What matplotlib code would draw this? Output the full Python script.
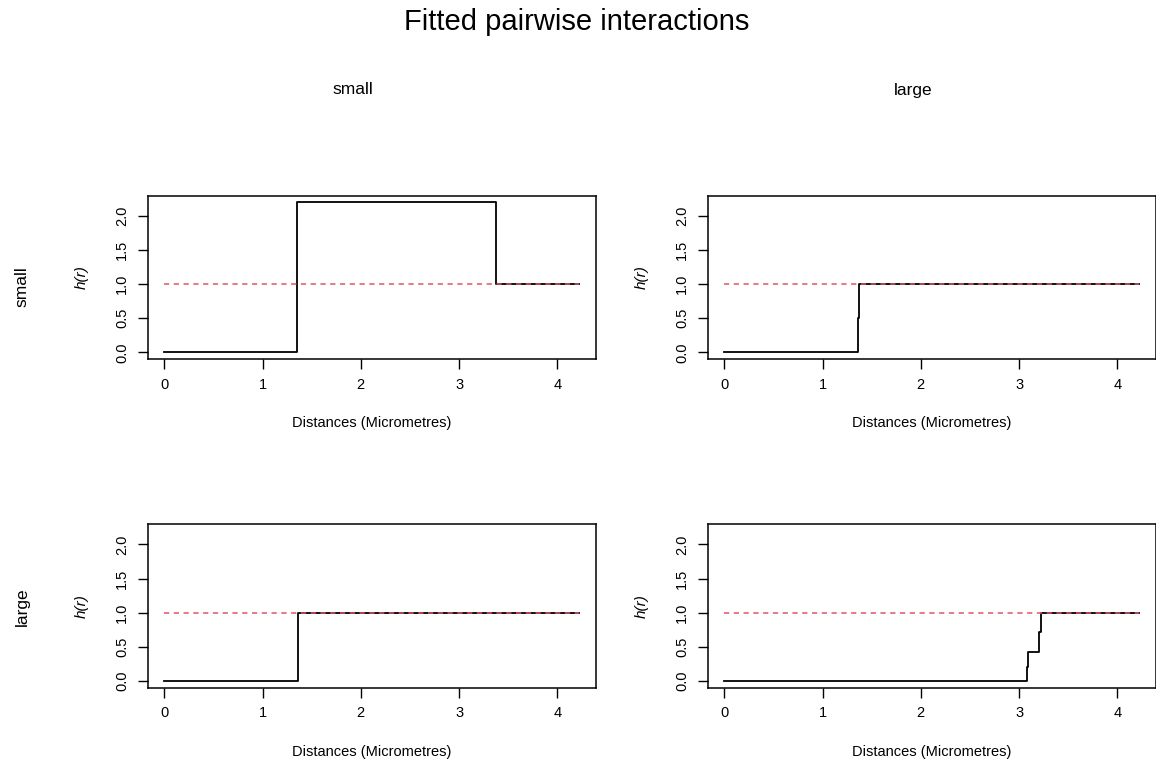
import matplotlib
matplotlib.use("Agg")
import matplotlib.pyplot as plt

plt.rcParams['font.family'] = ['Liberation Sans', 'DejaVu Sans']

# ---- data ----
title = "Fitted pairwise interactions"
types = ["small", "large"]
xlabel = "Distances (Micrometres)"
ylabel = "h(r)"
xticks = [0, 1, 2, 3, 4]
yticks = [0.0, 0.5, 1.0, 1.5, 2.0]
ytick_labels = ["0.0", "0.5", "1.0", "1.5", "2.0"]

# step functions: breakpoints r and value h (post steps)
r_small_small = [0.0, 1.348, 3.379, 4.225]
h_small_small = [0.0, 2.2, 1.0, 1.0]
r_small_large = [0.0, 1.358, 1.371, 4.225]
h_small_large = [0.0, 0.5, 1.0, 1.0]
r_large_small = [0.0, 1.364, 4.225]
h_large_small = [0.0, 1.0, 1.0]
r_large_large = [0.0, 3.084, 3.094, 3.206, 3.220, 4.225]
h_large_large = [0.0, 0.21, 0.43, 0.72, 1.0, 1.0]
reference_level = 1.0

panels = {
    (0, 0): (r_small_small, h_small_small),
    (0, 1): (r_small_large, h_small_large),
    (1, 0): (r_large_small, h_large_small),
    (1, 1): (r_large_large, h_large_large),
}

W, H = 1156, 762
fig = plt.figure(figsize=(W / 100, H / 100), dpi=100)

def px(x, y):
    return x / W, 1 - y / H

col_left = [147.7, 707.7]
box_w = 448.3
row_top = [195.7, 524.3]
box_h = 163.6

red = '#DF536B'
fs = 10.5

for (i, j), (r, h) in panels.items():
    x0 = col_left[j] / W
    y0 = 1 - (row_top[i] + box_h) / H
    ax = fig.add_axes([x0, y0, box_w / W, box_h / H])
    ax.step(r, h, where='post', color='black', lw=1.3, zorder=2)
    ax.plot([r[0], r[-1]], [reference_level, reference_level], color=red,
            lw=1.1, dashes=(3.4, 3.0), zorder=3)
    ax.set_xlim(-0.169, 4.394)
    ax.set_ylim(-0.1, 2.293)
    ax.set_xticks(xticks)
    ax.set_xticklabels([str(t) for t in xticks], fontsize=fs)
    ax.set_yticks(yticks)
    ax.set_yticklabels(ytick_labels, fontsize=fs, rotation=90, va='center')
    ax.tick_params(direction='out', length=7.2, width=1.0, pad=6)
    for s in ax.spines.values():
        s.set_linewidth(1.1)
    # axis labels
    cx = col_left[j] + box_w / 2
    fig.text(*px(cx, row_top[i] + box_h + 64), xlabel, fontsize=fs,
             ha='center', va='center')
    fig.text(*px(col_left[j] - 66, row_top[i] + box_h / 2), ylabel,
             fontsize=fs + 0.5, style='italic', rotation=90,
             ha='center', va='center')

fig.text(*px(577, 22), title, fontsize=21, ha='center', va='center')
fig.text(*px(353, 90), types[0], fontsize=12.5, ha='center', va='center')
fig.text(*px(913, 90), types[1], fontsize=12.5, ha='center', va='center')
fig.text(*px(22, 287), types[0], fontsize=12.5, rotation=90, ha='center', va='center')
fig.text(*px(22, 607), types[1], fontsize=12.5, rotation=90, ha='center', va='center')

fig.savefig("out.png", dpi=100)
